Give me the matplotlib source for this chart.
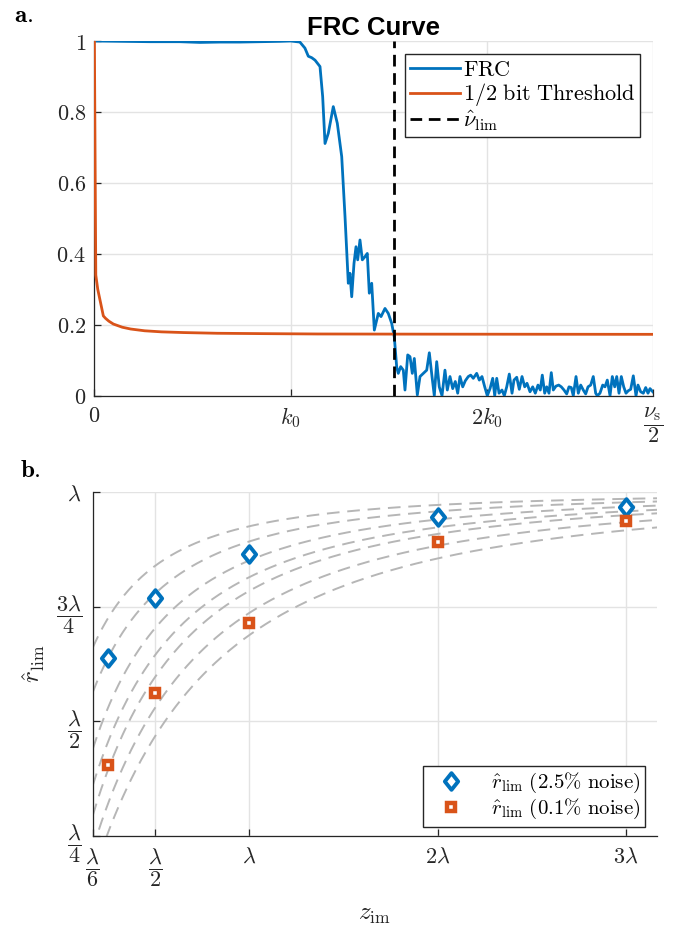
import numpy as np
import matplotlib
matplotlib.use("Agg")
import matplotlib.pyplot as plt
from matplotlib.path import Path

plt.rcParams["mathtext.fontset"] = "cm"
plt.rcParams["font.family"] = ["DejaVu Serif"]

# ---------------- Panel a: FRC curve (frequency in units of nu_s/2) ----------------
frc_freq = [0.0, 0.046, 0.100, 0.153, 0.189, 0.225, 0.261, 0.297, 0.332, 0.3516, 0.368,
            0.3770, 0.3831, 0.3891, 0.3951, 0.4040, 0.4088, 0.4130, 0.4189, 0.4278, 0.4350,
            0.4429, 0.4488, 0.4547, 0.4577, 0.4608, 0.4649, 0.4685, 0.4715, 0.4756, 0.4798,
            0.4846, 0.4887, 0.4923, 0.4966, 0.5013, 0.5084, 0.5133, 0.5204, 0.5263, 0.5324,
            0.5371, 0.5414, 0.5442, 0.5485, 0.5532, 0.5562, 0.5611, 0.5652, 0.5693, 0.5729,
            0.5783, 0.5831, 0.5890, 0.5951, 0.5998, 0.6046, 0.6087, 0.6130, 0.6176, 0.6225,
            0.6278, 0.6320, 0.6368, 0.6417, 0.6463, 0.6506, 0.6547, 0.6596, 0.6642, 0.6696,
            0.6739, 0.6785, 0.6846, 0.6893, 0.6941, 0.6990, 0.7036, 0.7085, 0.7133, 0.7169,
            0.7205, 0.7246, 0.7299, 0.7341, 0.7384, 0.7430, 0.7479, 0.7514, 0.7563, 0.7609,
            0.7658, 0.7706, 0.7747, 0.7801, 0.7849, 0.7896, 0.7944, 0.7985, 0.8021, 0.8064,
            0.8100, 0.8141, 0.8182, 0.8218, 0.8266, 0.8315, 0.8361, 0.8410, 0.8458, 0.8499,
            0.8540, 0.8576, 0.8625, 0.8666, 0.8709, 0.8755, 0.8798, 0.8840, 0.8888, 0.8934,
            0.8977, 0.9006, 0.9054, 0.9103, 0.9144, 0.9185, 0.9234, 0.9275, 0.9318, 0.9354,
            0.9395, 0.9436, 0.9479, 0.9520, 0.9561, 0.9604, 0.9651, 0.9699, 0.9735, 0.9783,
            0.9830, 0.9873, 0.9914, 0.9950, 1.0]
frc_value = [1.0, 0.999, 0.998, 0.998, 0.996, 0.997, 0.997, 0.998, 0.999, 1.0, 0.997,
             0.980, 0.957, 0.953, 0.946, 0.928, 0.843, 0.711, 0.740, 0.815, 0.768,
             0.674, 0.505, 0.317, 0.345, 0.279, 0.373, 0.420, 0.383, 0.439, 0.383,
             0.392, 0.401, 0.289, 0.317, 0.185, 0.232, 0.223, 0.246, 0.232, 0.204,
             0.165, 0.080, 0.063, 0.082, 0.072, 0.016, 0.115, 0.110, 0.063, 0.105,
             0.002, 0.054, 0.063, 0.072, 0.121, 0.054, 0.0, 0.096, 0.025, 0.0,
             0.072, 0.016, 0.054, 0.020, 0.040, 0.007, 0.054, 0.025, 0.042, 0.054,
             0.058, 0.049, 0.063, 0.044, 0.054, 0.025, 0.0, 0.020, 0.049, 0.0,
             0.049, 0.007, 0.016, 0.0, 0.025, 0.061, 0.007, 0.044, 0.052, 0.018,
             0.054, 0.025, 0.035, 0.011, 0.025, 0.007, 0.030, 0.016, 0.058, 0.007,
             0.025, 0.007, 0.065, 0.016, 0.027, 0.030, 0.025, 0.016, 0.005, 0.025,
             0.023, 0.0, 0.054, 0.007, 0.030, 0.016, 0.005, 0.025, 0.030, 0.054,
             0.007, 0.0, 0.007, 0.030, 0.025, 0.044, 0.0, 0.054, 0.025, 0.054,
             0.007, 0.054, 0.025, 0.007, 0.014, 0.018, 0.056, 0.0, 0.030, 0.011,
             0.007, 0.023, 0.007, 0.020, 0.011]

thr_freq = [0.0, 0.0015, 0.0025, 0.006, 0.010, 0.016, 0.020, 0.026, 0.034, 0.050,
            0.065, 0.090, 0.120, 0.160, 0.220, 0.300, 0.400, 0.600, 1.0]
thr_value = [1.0, 0.60, 0.34, 0.30, 0.27, 0.225, 0.218, 0.210, 0.202, 0.193,
             0.188, 0.183, 0.180, 0.178, 0.176, 0.175, 0.174, 0.1735, 0.173]

nu_lim = 0.537
k0 = 0.3516
xtick_pos_a = [0.0, k0, 2 * k0, 1.0]
xtick_lab_a = [r"$0$", r"$k_0$", r"$2k_0$", r"$\dfrac{\nu_\mathrm{s}}{2}$"]
ytick_pos_a = [0, 0.2, 0.4, 0.6, 0.8, 1.0]
ytick_lab_a = [r"$0$", r"$0.2$", r"$0.4$", r"$0.6$", r"$0.8$", r"$1$"]

# ---------------- Panel b: resolution limit vs imaging distance (units of lambda) ----------------
z_im = [0.25, 0.5, 1.0, 2.0, 3.0]
r_lim_noise_25 = [0.639, 0.770, 0.865, 0.946, 0.967]
r_lim_noise_01 = [0.405, 0.563, 0.715, 0.891, 0.938]
# model family r = 1 - 1/(a*z + b)^2
curve_a = [2.35, 1.85, 1.51, 1.29, 1.16, 0.98, 0.84]
curve_b = [1.325, 1.205, 1.084, 1.035, 0.997, 0.970, 0.952]

xtick_pos_b = [1 / 6, 0.5, 1.0, 2.0, 3.0]
xtick_lab_b = [r"$\dfrac{\lambda}{6}$", r"$\dfrac{\lambda}{2}$", r"$\lambda$", r"$2\lambda$", r"$3\lambda$"]
ytick_pos_b = [0.25, 0.5, 0.75, 1.0]
ytick_lab_b = [r"$\dfrac{\lambda}{4}$", r"$\dfrac{\lambda}{2}$", r"$\dfrac{3\lambda}{4}$", r"$\lambda$"]

BLUE = "#0072BD"
ORANGE = "#D95319"
AXC = "#262626"
GRIDC = "#e3e3e3"

W, H = 677, 927
fig = plt.figure(figsize=(W / 100, H / 100), dpi=100)


def px_axes(l, t, r, b):
    return fig.add_axes([l / W, 1 - b / H, (r - l) / W, (b - t) / H])


def style(ax):
    for s in ("top", "right"):
        ax.spines[s].set_visible(False)
    for s in ("left", "bottom"):
        ax.spines[s].set_color(AXC)
        ax.spines[s].set_linewidth(0.9)
    ax.tick_params(direction="in", length=5, width=0.9, color=AXC,
                   labelcolor=AXC, labelsize=16)
    ax.grid(True, color=GRIDC, linewidth=1.0)
    ax.set_axisbelow(True)


# ---- panel a ----
ax1 = px_axes(94.4, 41, 652.8, 395.7)
style(ax1)
ax1.plot(frc_freq, frc_value, color=BLUE, lw=2.0, label=r"$\mathrm{FRC}$", zorder=3)
ax1.plot(thr_freq, thr_value, color=ORANGE, lw=2.0,
         label=r"$1/2\ \mathrm{bit\ Threshold}$", zorder=3)
ax1.axvline(nu_lim, color="black", lw=2.0, ls=(0, (4.2, 2.4)),
            label=r"$\hat{\nu}_\mathrm{lim}$", zorder=4)
ax1.set_xlim(0, 1)
ax1.set_ylim(0, 1)
ax1.set_xticks(xtick_pos_a)
ax1.set_xticklabels(xtick_lab_a)
ax1.set_yticks(ytick_pos_a)
ax1.set_yticklabels(ytick_lab_a)
ax1.tick_params(axis="x", pad=7)
ax1.tick_params(axis="y", pad=6)
ax1.set_title("FRC Curve", fontfamily="Liberation Sans", fontweight="bold",
              fontsize=18.5, pad=4, color="black")
leg1 = ax1.legend(loc="upper right", bbox_to_anchor=(0.977, 0.962), fontsize=16,
                  frameon=True, fancybox=False, framealpha=1, edgecolor=AXC,
                  handlelength=2.25, handletextpad=0.15, borderpad=0.2,
                  labelspacing=0.02, borderaxespad=0)
leg1.get_frame().set_linewidth(1.0)

# ---- panel b ----
ax2 = px_axes(92.7, 492.3, 657, 836)
style(ax2)
zz = np.linspace(1 / 6, 3.2, 400)
for a, b in zip(curve_a, curve_b):
    ax2.plot(zz, 1 - 1 / (a * zz + b) ** 2, color="#b6b6b6", lw=1.4,
             ls=(0, (6.5, 4)), zorder=2)

diamond = Path([(0, 1), (0.8, 0), (0, -1), (-0.8, 0), (0, 1)],
               [Path.MOVETO, Path.LINETO, Path.LINETO, Path.LINETO, Path.CLOSEPOLY])
ax2.plot(z_im, r_lim_noise_25, ls="none", marker=diamond, ms=12, mfc="white",
         mec=BLUE, mew=2.8, zorder=4,
         label=r"$\hat{r}_\mathrm{lim}\ (2.5\%\ \mathrm{noise})$")
ax2.plot(z_im, r_lim_noise_01, ls="none", marker="s", ms=6.2, mfc="white",
         mec=ORANGE, mew=3.2, zorder=4,
         label=r"$\hat{r}_\mathrm{lim}\ (0.1\%\ \mathrm{noise})$")
ax2.set_xlim(1 / 6, 1 / 6 + 3)
ax2.set_ylim(0.25, 1)
ax2.set_xticks(xtick_pos_b)
ax2.set_xticklabels(xtick_lab_b)
ax2.set_yticks(ytick_pos_b)
ax2.set_yticklabels(ytick_lab_b)
ax2.tick_params(axis="x", pad=7)
ax2.tick_params(axis="y", pad=8)
ax2.set_xlabel(r"$z_\mathrm{im}$", fontsize=18, color=AXC, labelpad=10)
ax2.set_ylabel(r"$\hat{r}_\mathrm{lim}$", fontsize=18, color=AXC, labelpad=6)
leg2 = ax2.legend(loc="upper right", bbox_to_anchor=(0.979, 0.204), fontsize=15,
                  frameon=True, fancybox=False, framealpha=1, edgecolor=AXC,
                  handlelength=2.2, handletextpad=0.8, borderpad=0.25,
                  labelspacing=0.1, borderaxespad=0)
leg2.get_frame().set_linewidth(1.0)

# panel letters
fig.text(14 / W, 1 - 15 / H, r"$\mathbf{a.}$", fontsize=18, va="center", ha="left")
fig.text(20 / W, 1 - 470 / H, r"$\mathbf{b.}$", fontsize=18, va="center", ha="left")

fig.savefig("out.png", dpi=100)
